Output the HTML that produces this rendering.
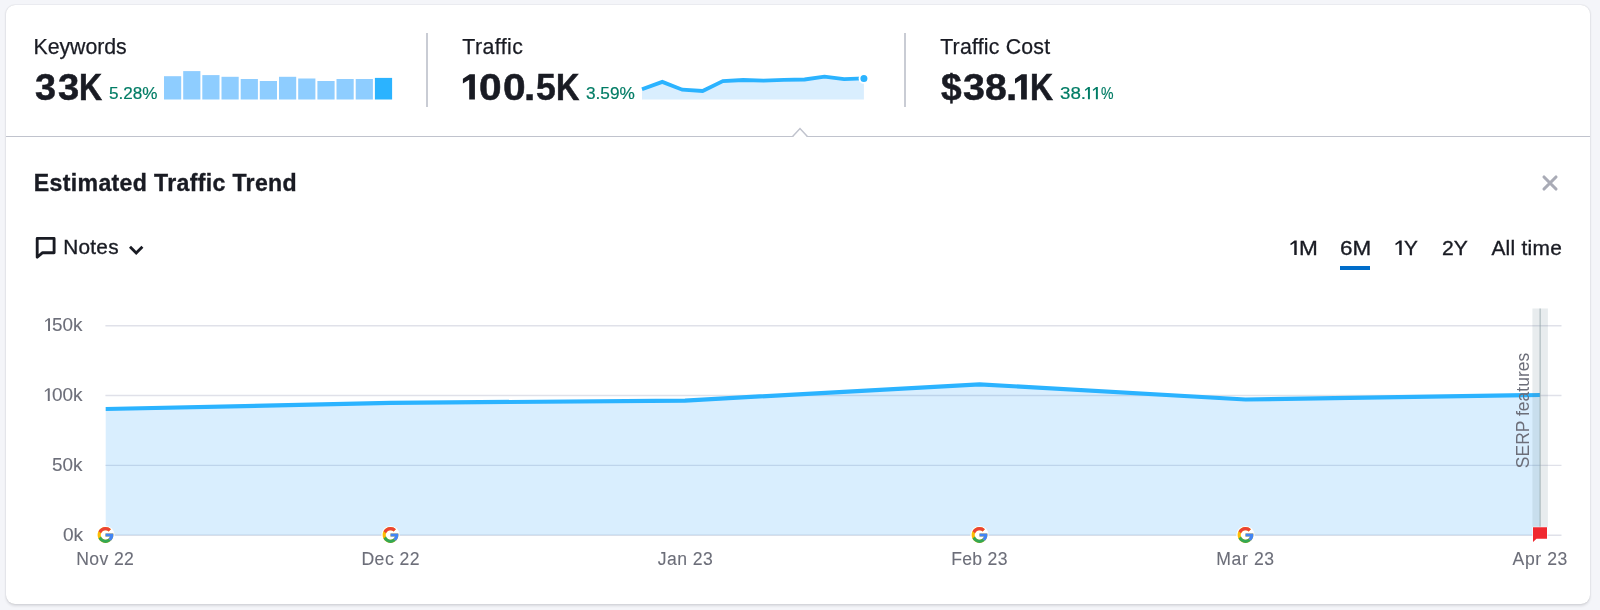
<!DOCTYPE html>
<html>
<head>
<meta charset="utf-8">
<style>
html,body{margin:0;padding:0;}
body{width:1600px;height:610px;overflow:hidden;background:#f4f5f9;font-family:"Liberation Sans",sans-serif;color:#191b23;position:relative;}
.card{position:absolute;left:6px;top:5px;width:1584px;height:599px;background:#fff;border-radius:9px;box-shadow:0 0 1.4px 0 rgba(25,27,35,0.16),0 1.4px 2.8px 0 rgba(25,27,35,0.12);}
.abs{position:absolute;white-space:nowrap;line-height:1;transform-origin:0 0;}
.lbl{font-size:20px;letter-spacing:0.2px;-webkit-text-stroke:0.25px #191b23;}
.val{font-size:34px;font-weight:bold;-webkit-text-stroke:0.5px #191b23;}
.g{position:absolute;top:0;transform-origin:0 0;}
.pct{font-size:16px;color:#007c65;-webkit-text-stroke:0.2px #007c65;}
.vdiv{position:absolute;width:2px;background:#c9ccd4;top:33px;height:74px;}
.hline{position:absolute;left:6px;top:135.7px;width:1584px;height:1.6px;background:#c0c3cd;}
.title{font-size:23px;font-weight:bold;-webkit-text-stroke:0.35px #191b23;}
.tab{font-size:20px;-webkit-text-stroke:0.35px #191b23;}
.ax{font-size:16.8px;color:#6c6e79;-webkit-text-stroke:0.1px #6c6e79;}
svg{position:absolute;left:0;top:0;}
</style>
</head>
<body>
<div class="card"></div>
<div id="layer" style="position:absolute;left:0;top:0;width:1600px;height:610px;will-change:transform;">

<!-- Keywords -->
<div class="abs lbl" id="kw" style="left:33.5px;top:36.5px;font-size:21.3px;letter-spacing:-0.04px;">Keywords</div>
<div class="abs val" id="kwv" style="left:0;top:69.5px;font-size:36.3px;width:1600px;height:37px;"><span class="g" style="left:35.19px;transform:scaleX(1.041)">3</span><span class="g" style="left:57.89px;transform:scaleX(1.052)">3</span><span class="g" style="left:79.38px;transform:scaleX(0.883)">K</span></div>
<div class="abs pct" id="kwp" style="left:108.5px;top:85px;font-size:17.4px;letter-spacing:0.0px;transform:scaleX(0.983);">5.28%</div>

<div class="vdiv" style="left:426px;"></div>

<!-- Traffic -->
<div class="abs lbl" id="tr" style="left:462.3px;top:36.5px;font-size:21.3px;letter-spacing:0.44px;">Traffic</div>
<div class="abs val" id="trv" style="left:0;top:69.5px;font-size:36.3px;width:1600px;height:37px;"><span class="g" style="left:479.32px;transform:scaleX(1.120)">0</span><span class="g" style="left:502.67px;transform:scaleX(1.120)">0</span><span class="g" style="left:524.27px;transform:scaleX(1.120)">.</span><span class="g" style="left:536.05px;transform:scaleX(0.981)">5</span><span class="g" style="left:556.35px;transform:scaleX(0.894)">K</span></div>
<div class="abs pct" id="trp" style="left:586.0px;top:85px;font-size:17.4px;letter-spacing:0.0px;transform:scaleX(0.991);">3.59%</div>

<div class="vdiv" style="left:904px;"></div>

<!-- Traffic cost -->
<div class="abs lbl" id="tc" style="left:940.2px;top:36.5px;font-size:21.3px;letter-spacing:0.2px;">Traffic Cost</div>
<div class="abs val" id="tcv" style="left:0;top:69.5px;font-size:36.3px;width:1600px;height:37px;"><span class="g" style="left:940.62px;transform:scaleX(1.023)">$</span><span class="g" style="left:962.97px;transform:scaleX(1.087)">3</span><span class="g" style="left:984.83px;transform:scaleX(1.080)">8</span><span class="g" style="left:1006.12px;transform:scaleX(1.120)">.</span><span class="g" style="left:1030.18px;transform:scaleX(0.881)">K</span></div>
<div class="abs pct" id="tcpa" style="left:1059.7px;top:85px;font-size:17.4px;letter-spacing:0.0px;transform:scaleX(1.078);">38.</div>
<div class="abs pct" id="tcpb" style="left:1101.0px;top:85px;font-size:17.4px;letter-spacing:0.0px;transform:scaleX(0.811);">%</div>

<div class="hline"></div>

<!-- Title -->
<div class="abs title" id="ttl" style="left:33.8px;top:172px;font-size:23.1px;letter-spacing:0.34px;">Estimated Traffic Trend</div>

<!-- Notes -->
<div class="abs tab" id="notes" style="left:63.2px;top:237px;font-size:20.8px;letter-spacing:0.26px;">Notes</div>

<!-- Tabs -->
<div class="abs tab" id="t1m" style="left:1298.6px;top:238px;font-size:20.9px;letter-spacing:0.0px;transform:scaleX(1.082);">M</div>
<div class="abs tab" id="t6m" style="left:1339.6px;top:238px;font-size:20.9px;letter-spacing:0.0px;transform:scaleX(1.075);">6M</div>
<div class="abs tab" id="t1y" style="left:1404.0px;top:238px;font-size:20.9px;letter-spacing:0.0px;transform:scaleX(0.995);">Y</div>
<div class="abs tab" id="t2y" style="left:1442.1px;top:238px;font-size:20.9px;letter-spacing:0.0px;transform:scaleX(1.011);">2Y</div>
<div class="abs tab" id="tall" style="left:1491.4px;top:238px;font-size:20.9px;letter-spacing:0.27px;">All time</div>
<div class="ul" style="position:absolute;left:1340px;top:266px;width:30.4px;height:3.8px;background:#006dca;"></div>

<!-- Axis labels -->
<div class="abs ax" id="y150" style="left:51.9px;top:316.5px;font-size:17.6px;letter-spacing:0.0px;transform:scaleX(1.072);">50k</div>
<div class="abs ax" id="y100" style="left:51.9px;top:386.5px;font-size:17.6px;letter-spacing:0.0px;transform:scaleX(1.078);">00k</div>
<div class="abs ax" id="y50" style="left:51.9px;top:456.5px;font-size:17.6px;letter-spacing:0.0px;transform:scaleX(1.072);">50k</div>
<div class="abs ax" id="y0" style="left:62.7px;top:526.5px;font-size:17.6px;letter-spacing:0.0px;transform:scaleX(1.085);">0k</div>

<div class="abs ax" id="x0" style="left:76.3px;top:551px;font-size:17.6px;letter-spacing:0.36px;">Nov 22</div>
<div class="abs ax" id="x1" style="left:361.4px;top:551px;font-size:17.6px;letter-spacing:0.5px;">Dec 22</div>
<div class="abs ax" id="x2" style="left:657.7px;top:551px;font-size:17.6px;letter-spacing:0.43px;">Jan 23</div>
<div class="abs ax" id="x3" style="left:951.2px;top:551px;font-size:17.6px;letter-spacing:0.29px;">Feb 23</div>
<div class="abs ax" id="x4" style="left:1216.3px;top:551px;font-size:17.6px;letter-spacing:0.61px;">Mar 23</div>
<div class="abs ax" id="x5" style="left:1512.6px;top:551px;font-size:17.6px;letter-spacing:0.58px;">Apr 23</div>

</div>
<svg width="1600" height="610" viewBox="0 0 1600 610">
  <!-- pointer notch -->
  <path d="M793.2 137.6 L793.2 136.6 L800 128.9 L806.8 136.6 L806.8 137.6 Z" fill="#fff"/>
  <path d="M792.6 136.5 L800 128.6 L807.4 136.5" fill="none" stroke="#c0c3cd" stroke-width="1.5"/>

  <!-- bold 1 glyphs -->
  <g fill="#191b23"><polygon points="474.9,74.3 474.9,99.4 469.2,99.4 469.2,79.7 462.9,83.5 462.9,78.7 469.7,74.3"/><polygon points="1026.8,74.3 1026.8,99.4 1021.1,99.4 1021.1,79.7 1015.0,83.5 1015.0,78.7 1021.6,74.3"/></g>
  <!-- regular 1 glyphs -->
  <g fill="#007c65"><polygon points="1089.90,87.10 1089.90,99.20 1087.95,99.20 1087.95,89.00 1085.35,90.98 1084.85,89.80 1088.20,87.10"/><polygon points="1097.85,87.10 1097.85,99.20 1095.90,99.20 1095.90,89.00 1093.20,90.98 1092.70,89.80 1096.15,87.10"/></g>
  <g fill="#191b23"><polygon points="1296.70,240.50 1296.70,255.00 1294.25,255.00 1294.25,242.90 1290.75,245.29 1290.25,243.80 1294.50,240.50"/><polygon points="1401.70,240.50 1401.70,255.00 1399.25,255.00 1399.25,242.90 1395.75,245.29 1395.25,243.80 1399.50,240.50"/></g>
  <g fill="#6c6e79"><polygon points="50.00,318.20 50.00,330.90 48.05,330.90 48.05,320.10 45.40,322.08 44.90,320.90 48.30,318.20"/><polygon points="49.75,388.20 49.75,400.90 47.80,400.90 47.80,390.10 45.10,392.08 44.60,390.90 48.05,388.20"/></g>
  <!-- keyword bars -->
  <g fill="#8ecdff" id="bars">
    <rect x="164" y="76.2" width="17.2" height="23.3"/>
    <rect x="183.2" y="71.1" width="17.2" height="28.4"/>
    <rect x="202.3" y="75.1" width="17.2" height="24.4"/>
    <rect x="221.5" y="76.8" width="17.2" height="22.7"/>
    <rect x="240.7" y="79" width="17.2" height="20.5"/>
    <rect x="259.8" y="81" width="17.2" height="18.5"/>
    <rect x="279" y="76.8" width="17.2" height="22.7"/>
    <rect x="298.2" y="78.5" width="17.2" height="21"/>
    <rect x="317.4" y="81" width="17.2" height="18.5"/>
    <rect x="336.5" y="79" width="17.2" height="20.5"/>
    <rect x="355.7" y="79" width="17.2" height="20.5"/>
    <rect x="374.9" y="77.9" width="17.2" height="21.6" fill="#2bb3ff"/>
  </g>

  <!-- traffic sparkline -->
  <path d="M642.0 89.3 L662.3 81.9 L682.3 89.7 L702.6 91.0 L722.9 81.1 L743.2 80.0 L763.5 80.6 L783.9 79.8 L804.6 79.5 L824.5 76.6 L844.1 79.2 L863.9 78.4 L863.9 99.5 L642.0 99.5 Z" fill="#008ff8" fill-opacity="0.15"/>
  <path d="M642.0 89.3 L662.3 81.9 L682.3 89.7 L702.6 91.0 L722.9 81.1 L743.2 80.0 L763.5 80.6 L783.9 79.8 L804.6 79.5 L824.5 76.6 L844.1 79.2 L863.9 78.4" fill="none" stroke="#2bb3ff" stroke-width="3.8" stroke-linejoin="miter"/>
  <circle cx="863.9" cy="78.4" r="4.4" fill="#2bb3ff" stroke="#fff" stroke-width="1.8"/>

  <!-- Notes icon -->
  <path d="M37.2 238.4 H54.1 V252.7 H42.6 L37.2 257.2 Z" fill="none" stroke="#191b23" stroke-width="2.85" stroke-linejoin="round"/>
  <!-- chevron -->
  <path d="M130.0 246.8 L136.2 252.9 L142.4 246.8" fill="none" stroke="#191b23" stroke-width="2.85" stroke-linecap="butt" stroke-linejoin="miter"/>

  <!-- close X -->
  <path d="M1544 177 L1556 189 M1556 177 L1544 189" stroke="#a9abb6" stroke-width="3.1" stroke-linecap="round"/>

  <!-- grid -->
  <g stroke="#e0e1e9" stroke-width="1.4">
    <line x1="105.4" y1="325.7" x2="1561.5" y2="325.7"/>
    <line x1="105.4" y1="395.5" x2="1561.5" y2="395.5"/>
    <line x1="105.4" y1="465.4" x2="1561.5" y2="465.4"/>
    <line x1="105.4" y1="535.3" x2="1561.5" y2="535.3"/>
  </g>

  <!-- area -->
  <path d="M105.7 409.0 L390.5 402.9 L685 400.6 L979.5 384.3 L1245.5 399.5 L1540 395.0 L1540 535.2 L105.7 535.2 Z" fill="#008ff8" fill-opacity="0.15"/>
  <path d="M105.7 409.0 L390.5 402.9 L685 400.6 L979.5 384.3 L1245.5 399.5 L1540 395.0" fill="none" stroke="#2bb3ff" stroke-width="4.2" stroke-linejoin="miter"/>

  <!-- SERP band -->
  <rect x="1532.4" y="308.5" width="15.5" height="219" fill="#5a7a84" fill-opacity="0.14"/>
  <rect x="1539.5" y="308.5" width="1.3" height="219" fill="#8fa3a6" fill-opacity="0.6"/>

  <!-- flag -->
  <path d="M1533 527.3 H1547 V538.7 H1536.5 L1533 542 Z" fill="#f0282f" stroke="#fff" stroke-width="1.2" stroke-linejoin="round" paint-order="stroke"/>

  <!-- google icons -->
  <defs>
    <g id="gicon">
      <circle cx="0" cy="0" r="9.1" fill="#fff"/>
      <g transform="translate(-9.48,-9.48) scale(0.395)">
        <path fill="#fbbc05" d="M43.611,20.083H42V20H24v8h11.303c-1.649,4.657-6.08,8-11.303,8c-6.627,0-12-5.373-12-12c0-6.627,5.373-12,12-12c3.059,0,5.842,1.154,7.961,3.039l5.657-5.657C34.046,6.053,29.268,4,24,4C12.955,4,4,12.955,4,24c0,11.045,8.955,20,20,20c11.045,0,20-8.955,20-20C44,22.659,43.862,21.35,43.611,20.083z"/>
        <path fill="#ea4335" d="M6.306,14.691l6.571,4.819C14.655,15.108,18.961,12,24,12c3.059,0,5.842,1.154,7.961,3.039l5.657-5.657C34.046,6.053,29.268,4,24,4C16.318,4,9.656,8.337,6.306,14.691z"/>
        <path fill="#34a853" d="M24,44c5.166,0,9.86-1.977,13.409-5.192l-6.19-5.238C29.211,35.091,26.715,36,24,36c-5.202,0-9.619-3.317-11.283-7.946l-6.522,5.025C9.505,39.556,16.227,44,24,44z"/>
        <path fill="#4285f4" d="M43.611,20.083H42V20H24v8h11.303c-0.792,2.237-2.231,4.166-4.087,5.571c0.001-0.001,0.002-0.001,0.003-0.002l6.19,5.238C36.971,39.205,44,34,44,24C44,22.659,43.862,21.35,43.611,20.083z"/>
      </g>
    </g>
  </defs>
  <use href="#gicon" x="105.5" y="535"/>
  <use href="#gicon" x="390.5" y="535"/>
  <use href="#gicon" x="979.5" y="535"/>
  <use href="#gicon" x="1245.5" y="535"/>

  <!-- SERP text -->
  <text transform="translate(1529,468.2) rotate(-90)" font-family="Liberation Sans, sans-serif" font-size="17.5" fill="#6c6e79">SERP features</text>
</svg>
</body>
</html>
